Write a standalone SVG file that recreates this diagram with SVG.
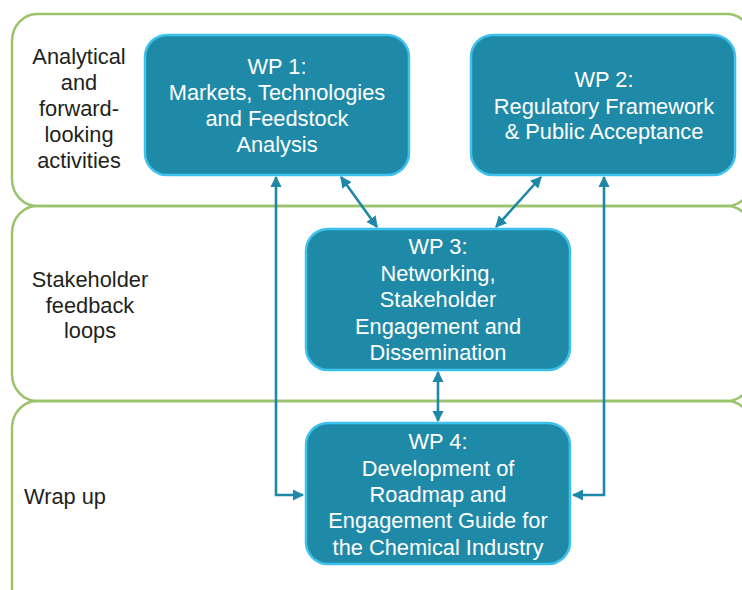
<svg xmlns="http://www.w3.org/2000/svg" width="742" height="590" viewBox="0 0 742 590">
<style>
.band{fill:none;stroke:#9AC46B;stroke-width:2.5}
.box{fill:#1F8AA7;stroke:#3EC1EC;stroke-width:2.5}
.lbl{font-family:"Liberation Sans",Arial,sans-serif;font-size:21.8px;fill:#231F20;text-anchor:middle}
.wt{font-family:"Liberation Sans",Arial,sans-serif;font-size:21.8px;fill:#FFFFFF;text-anchor:middle}
.conn{fill:none;stroke:#1F87A7;stroke-width:2.6}
</style>
<defs>
<marker id="ah" viewBox="0 0 10 10" refX="9" refY="5" markerWidth="4.4" markerHeight="4.4" orient="auto-start-reverse" markerUnits="strokeWidth">
<path d="M0,0 L10,5 L0,10 z" fill="#1F87A7"/>
</marker>
</defs>
<g id="bands">
<rect id="band1" class="band" x="12" y="14" width="740" height="192" rx="25" ry="27"/>
<rect id="band2" class="band" x="12" y="206" width="740" height="195" rx="25" ry="27"/>
<rect id="band3" class="band" x="12" y="401" width="740" height="215" rx="25" ry="27"/>
</g>
<g id="label1">
<text class="lbl" x="79" y="64">Analytical</text>
<text class="lbl" x="79" y="90">and</text>
<text class="lbl" x="79" y="116">forward-</text>
<text class="lbl" x="79" y="142">looking</text>
<text class="lbl" x="79" y="168">activities</text>
</g>
<g id="label2">
<text class="lbl" x="90" y="287">Stakeholder</text>
<text class="lbl" x="90" y="313">feedback</text>
<text class="lbl" x="90" y="338">loops</text>
</g>
<g id="label3">
<text class="lbl" x="24" y="504" style="text-anchor:start">Wrap up</text>
</g>
<g id="connectors">
<path class="conn" d="M276,177 V495 H303" marker-start="url(#ah)" marker-end="url(#ah)"/>
<path class="conn" d="M604,177 V495 H573" marker-start="url(#ah)" marker-end="url(#ah)"/>
<path class="conn" d="M341,177 L377,227" marker-start="url(#ah)" marker-end="url(#ah)"/>
<path class="conn" d="M541,177 L496,227" marker-start="url(#ah)" marker-end="url(#ah)"/>
<path class="conn" d="M438,372 V421" marker-start="url(#ah)" marker-end="url(#ah)"/>
</g>
<g id="wp1">
<rect class="box" x="145" y="35" width="264" height="140" rx="22"/>
<text class="wt" x="277" y="74">WP 1:</text>
<text class="wt" x="277" y="100">Markets, Technologies</text>
<text class="wt" x="277" y="126">and Feedstock</text>
<text class="wt" x="277" y="152">Analysis</text>
</g>
<g id="wp2">
<rect class="box" x="471" y="35" width="264" height="140" rx="22"/>
<text class="wt" x="604" y="87">WP 2:</text>
<text class="wt" x="604" y="114">Regulatory Framework</text>
<text class="wt" x="604" y="139">&amp; Public Acceptance</text>
</g>
<g id="wp3">
<rect class="box" x="306" y="229" width="264" height="141" rx="22"/>
<text class="wt" x="438" y="254">WP 3:</text>
<text class="wt" x="438" y="281">Networking,</text>
<text class="wt" x="438" y="307">Stakeholder</text>
<text class="wt" x="438" y="334">Engagement and</text>
<text class="wt" x="438" y="360">Dissemination</text>
</g>
<g id="wp4">
<rect class="box" x="306" y="423" width="264" height="141" rx="22"/>
<text class="wt" x="438" y="449">WP 4:</text>
<text class="wt" x="438" y="476">Development of</text>
<text class="wt" x="438" y="502">Roadmap and</text>
<text class="wt" x="438" y="528">Engagement Guide for</text>
<text class="wt" x="438" y="555">the Chemical Industry</text>
</g>
</svg>
